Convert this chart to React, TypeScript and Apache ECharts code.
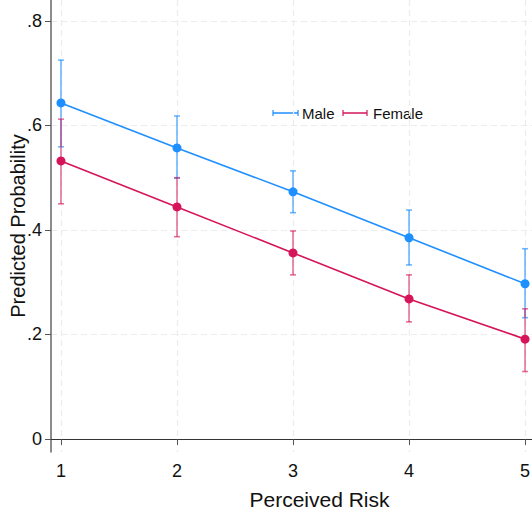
import React, { useEffect, useRef } from "react";
import * as echarts from "echarts";

const riskLevels = [1, 2, 3, 4, 5];
const maleProb = [0.643, 0.557, 0.473, 0.385, 0.297];
const maleLow = [0.559, 0.499, 0.433, 0.333, 0.232];
const maleHigh = [0.725, 0.618, 0.513, 0.438, 0.364];
const femaleProb = [0.532, 0.444, 0.356, 0.268, 0.191];
const femaleLow = [0.45, 0.387, 0.314, 0.224, 0.129];
const femaleHigh = [0.612, 0.5, 0.398, 0.314, 0.249];
const yTicks = [0, 0.2, 0.4, 0.6, 0.8];

const MALE = "#1e8fff";
const FEMALE = "#d6145a";
const MALE_BAR = "rgba(30,143,255,0.65)";
const FEMALE_BAR = "rgba(214,20,90,0.6)";
const FONT = "'Liberation Sans Narrow', 'Liberation Sans', Arial, sans-serif";
const TITLE_FONT = "'Liberation Sans', Arial, sans-serif";

function errorSeries(name: string, low: number[], high: number[], color: string, z: number) {
  return {
    type: "custom",
    name,
    z,
    data: riskLevels.map((x, i) => [x, low[i], high[i]]),
    renderItem: (_params: any, api: any) => {
      const x = api.value(0);
      const p1 = api.coord([x, api.value(1)]);
      const p2 = api.coord([x, api.value(2)]);
      const w = 3;
      const style = { stroke: color, lineWidth: 1.6 };
      return {
        type: "group",
        children: [
          { type: "line", shape: { x1: p1[0], y1: p1[1], x2: p2[0], y2: p2[1] }, style },
          { type: "line", shape: { x1: p1[0] - w, y1: p1[1], x2: p1[0] + w, y2: p1[1] }, style },
          { type: "line", shape: { x1: p2[0] - w, y1: p2[1], x2: p2[0] + w, y2: p2[1] }, style },
        ],
      };
    },
  };
}

export default function App() {
  const ref = useRef<HTMLDivElement>(null);
  useEffect(() => {
    if (!ref.current) return;
    const chart = echarts.init(ref.current, undefined, { renderer: "svg" });
    const axisText = { color: "#111", fontFamily: FONT, fontSize: 18 };
    chart.setOption({
      animation: false,
      backgroundColor: "#ffffff",
      grid: { left: 51, right: 0, top: 0, bottom: 62, outerBoundsMode: "none", containLabel: false },
      xAxis: {
        type: "value",
        min: 0.914,
        max: 5.06,
        name: "Perceived Risk",
        nameLocation: "middle",
        nameGap: 37,
        nameMoveOverlap: false,
        nameTextStyle: { color: "#111", fontFamily: TITLE_FONT, fontSize: 21, padding: [0, 0, 0, 56] },
        axisLine: { show: true, lineStyle: { color: "#333", width: 1 } },
        axisTick: { show: true, length: 6, customValues: riskLevels, lineStyle: { color: "#555" } },
        axisLabel: { ...axisText, margin: 10, customValues: riskLevels, formatter: (v: number) => String(v) },
        splitLine: { show: true, lineStyle: { color: "#ececec", type: [6, 4], width: 1.2 } },
      },
      yAxis: {
        type: "value",
        min: -0.025,
        max: 0.84,
        name: "Predicted Probability",
        nameLocation: "middle",
        nameGap: 23,
        nameMoveOverlap: false,
        nameTextStyle: { color: "#111", fontFamily: TITLE_FONT, fontSize: 20 },
        axisLine: { show: true, lineStyle: { color: "#666", width: 1.5 } },
        axisTick: { show: true, length: 6, customValues: yTicks, lineStyle: { color: "#555" } },
        axisLabel: {
          ...axisText,
          margin: 9,
          customValues: yTicks,
          formatter: (v: number) => (v === 0 ? "0" : String(Math.round(v * 10) / 10).replace("0.", ".")),
        },
        splitLine: { show: true, lineStyle: { color: "#ececec", type: [6, 4], width: 1.2 } },
      },
      graphic: [
        { type: "line", shape: { x1: 273, y1: 113, x2: 298, y2: 113 }, style: { stroke: MALE, lineWidth: 1.5 } },
        { type: "line", shape: { x1: 273, y1: 110, x2: 273, y2: 116 }, style: { stroke: MALE, lineWidth: 1.2 } },
        { type: "line", shape: { x1: 298, y1: 110, x2: 298, y2: 116 }, style: { stroke: MALE, lineWidth: 1.2 } },
        { type: "text", x: 302, y: 113, style: { text: "Male", fill: "#111", fontFamily: FONT, fontSize: 15, verticalAlign: "middle" } },
        { type: "line", shape: { x1: 343, y1: 113, x2: 367, y2: 113 }, style: { stroke: FEMALE, lineWidth: 1.5 } },
        { type: "line", shape: { x1: 343, y1: 110, x2: 343, y2: 116 }, style: { stroke: FEMALE, lineWidth: 1.2 } },
        { type: "line", shape: { x1: 367, y1: 110, x2: 367, y2: 116 }, style: { stroke: FEMALE, lineWidth: 1.2 } },
        { type: "text", x: 373, y: 113, style: { text: "Female", fill: "#111", fontFamily: FONT, fontSize: 15, verticalAlign: "middle" } },
      ],
      series: [
        errorSeries("Male CI", maleLow, maleHigh, MALE_BAR, 2),
        errorSeries("Female CI", femaleLow, femaleHigh, FEMALE_BAR, 2),
        {
          type: "line",
          name: "Male",
          z: 3,
          data: riskLevels.map((x, i) => [x, maleProb[i]]),
          symbol: "circle",
          symbolSize: 9,
          itemStyle: { color: MALE },
          lineStyle: { color: MALE, width: 1.6 },
        },
        {
          type: "line",
          name: "Female",
          z: 3,
          data: riskLevels.map((x, i) => [x, femaleProb[i]]),
          symbol: "circle",
          symbolSize: 9,
          itemStyle: { color: FEMALE },
          lineStyle: { color: FEMALE, width: 1.6 },
        },
      ],
    });
    return () => chart.dispose();
  }, []);
  return <div ref={ref} style={{ width: 532, height: 514, position: "absolute", left: 0, top: 0 }} />;
}
